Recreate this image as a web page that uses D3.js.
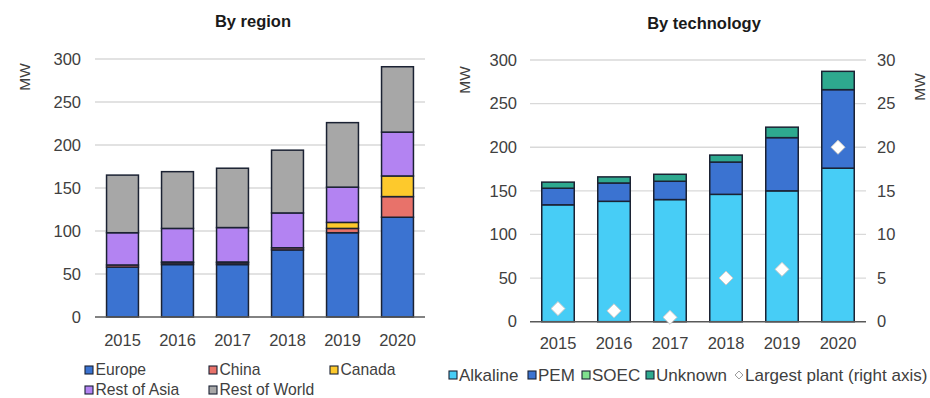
<!DOCTYPE html>
<html>
<head>
<meta charset="utf-8">
<script src="https://cdn.jsdelivr.net/npm/d3@7"></script>
<style>
  html, body { margin: 0; padding: 0; background: #fff; }
  svg { display: block; font-family: "Liberation Sans", Arial, sans-serif; }
</style>
</head>
<body>
<svg id="chart" width="930" height="398"></svg>
<script>
// Electrolyser capacity additions, MW
const years = ["2015", "2016", "2017", "2018", "2019", "2020"];

// By region
const europe      = [58, 61, 61, 78, 98, 116];
const china       = [2.5, 2, 2, 2.5, 5, 24];
const canada      = [0, 1, 1, 0, 7, 24];
const restOfAsia  = [37.5, 39, 40, 40.5, 41, 51];
const restOfWorld = [67, 66, 69, 73, 75, 76];

// By technology
const alkaline = [134, 138, 140, 146, 150, 176];
const pem      = [19, 21, 21, 37, 61, 90];
const soec     = [0, 0, 0, 0, 0, 0];
const unknown  = [7, 7, 8, 8, 12, 21];
// Largest single plant, MW (right axis)
const largestPlant = [1.5, 1.25, 0.5, 5, 6, 20];

const leftTicks  = [0, 50, 100, 150, 200, 250, 300];
const rightTicks = [0, 5, 10, 15, 20, 25, 30];

const regionSeries = [
  { name: "Europe",        values: europe,      color: "#3b73d1" },
  { name: "China",         values: china,       color: "#e8726a" },
  { name: "Canada",        values: canada,      color: "#fdc92c" },
  { name: "Rest of Asia",  values: restOfAsia,  color: "#b383f2" },
  { name: "Rest of World", values: restOfWorld, color: "#a7a7a7" }
];
const techSeries = [
  { name: "Alkaline", values: alkaline, color: "#47cdf6" },
  { name: "PEM",      values: pem,      color: "#3b73d1" },
  { name: "SOEC",     values: soec,     color: "#7fe08e" },
  { name: "Unknown",  values: unknown,  color: "#2ea98f" }
];

const FONT = '"Liberation Sans", Arial, sans-serif';
const svg = d3.select("#chart");
const textColor = "#404040";
const strokeColor = "#1b2233";

function stackedPanel(opts) {
  const g = svg.append("g");
  const x = d3.scaleBand().domain(years).range([opts.x0, opts.x1]).paddingInner(0.42).paddingOuter(0.21);
  const y = d3.scaleLinear().domain([0, 300]).range([opts.y0, opts.yTop]);

  // gridlines
  g.append("g").selectAll("line").data(leftTicks.filter(d => d > 0)).join("line")
    .attr("x1", opts.x0).attr("x2", opts.x1)
    .attr("y1", d => y(d)).attr("y2", d => y(d))
    .attr("stroke", "#d9d9d9").attr("stroke-width", 1.3);

  // left axis labels
  const yAxis = d3.axisLeft(y).tickValues(leftTicks).tickSize(0).tickPadding(0);
  const ya = g.append("g").attr("transform", `translate(${opts.labelRight},0)`).call(yAxis)
    .attr("font-family", FONT).attr("font-size", 16.5);
  ya.select(".domain").remove();
  ya.selectAll("text").attr("fill", textColor);

  g.append("text").text("MW")
    .attr("transform", `translate(${opts.mwX},${opts.mwY}) rotate(-90)`)
    .attr("text-anchor", "middle").attr("dy", "0.35em")
    .attr("font-size", 15.5).attr("fill", textColor);

  // stacked bars
  const rows = years.map((yr, i) => {
    const r = { year: yr };
    opts.series.forEach(s => { r[s.name] = s.values[i]; });
    return r;
  });
  const stacked = d3.stack().keys(opts.series.map(s => s.name))(rows);
  stacked.forEach((layer, k) => {
    g.append("g").selectAll("rect").data(layer.filter(d => d[1] - d[0] > 0)).join("rect")
      .attr("x", d => x(d.data.year))
      .attr("width", x.bandwidth())
      .attr("y", d => y(d[1]))
      .attr("height", d => y(d[0]) - y(d[1]))
      .attr("fill", opts.series[k].color)
      .attr("stroke", strokeColor).attr("stroke-width", 1.5);
  });

  // baseline
  g.append("line").attr("x1", opts.x0).attr("x2", opts.x1)
    .attr("y1", y(0)).attr("y2", y(0))
    .attr("stroke", "#595959").attr("stroke-width", 1.5);

  // x labels
  const xAxis = d3.axisBottom(x).tickSize(0).tickPadding(0);
  const xa = g.append("g").attr("transform", `translate(0,${opts.xLabelY})`).call(xAxis)
    .attr("font-family", FONT).attr("font-size", 16.5);
  xa.select(".domain").remove();
  xa.selectAll("text").attr("fill", textColor).attr("dy", "0.35em");

  g.append("text").text(opts.title)
    .attr("x", opts.titleX).attr("y", opts.titleY)
    .attr("text-anchor", "middle").attr("dy", "0.35em")
    .attr("font-size", 16.5).attr("font-weight", "bold").attr("fill", "#1a1a1a");

  return { g, x, y };
}

// ---- By region ----
const left = stackedPanel({
  x0: 95, x1: 425, y0: 317, yTop: 59,
  labelRight: 81, mwX: 25, mwY: 77,
  series: regionSeries, xLabelY: 340,
  title: "By region", titleX: 253, titleY: 21
});

const legL = svg.append("g");
const legLItems = [
  { s: regionSeries[0], x: 85, y: 370 },
  { s: regionSeries[1], x: 209, y: 370 },
  { s: regionSeries[2], x: 330, y: 370 },
  { s: regionSeries[3], x: 85, y: 390 },
  { s: regionSeries[4], x: 209, y: 390 }
];
legLItems.forEach(it => {
  legL.append("rect").attr("x", it.x).attr("y", it.y - 4).attr("width", 8).attr("height", 8)
    .attr("fill", it.s.color).attr("stroke", strokeColor).attr("stroke-width", 1.1);
  legL.append("text").text(it.s.name).attr("x", it.x + 10.5).attr("y", it.y).attr("dy", "0.35em")
    .attr("font-size", 15.7).attr("fill", textColor);
});

// ---- By technology ----
const right = stackedPanel({
  x0: 530, x1: 866, y0: 321.7, yTop: 60,
  labelRight: 517, mwX: 465, mwY: 80,
  series: techSeries, xLabelY: 343,
  title: "By technology", titleX: 704, titleY: 23
});

const yR = d3.scaleLinear().domain([0, 30]).range([321.7, 60]);
const yAxisR = d3.axisRight(yR).tickValues(rightTicks).tickSize(0).tickPadding(0);
const yar = right.g.append("g").attr("transform", "translate(877,0)").call(yAxisR)
  .attr("font-family", FONT).attr("font-size", 16.5);
yar.select(".domain").remove();
yar.selectAll("text").attr("fill", textColor);
right.g.append("text").text("MW")
  .attr("transform", "translate(920,87) rotate(-90)")
  .attr("text-anchor", "middle").attr("dy", "0.35em")
  .attr("font-size", 15.5).attr("fill", textColor);

const diamond = d3.symbol().type(d3.symbolDiamond2).size(125);
right.g.append("g").selectAll("path").data(largestPlant).join("path")
  .attr("d", diamond)
  .attr("transform", (d, i) => `translate(${right.x(years[i]) + right.x.bandwidth() / 2},${yR(d)})`)
  .attr("fill", "#ffffff").attr("stroke", "#c8c8c8").attr("stroke-width", 1);

const legR = svg.append("g");
const legRItems = [
  { s: techSeries[0], x: 449 },
  { s: techSeries[1], x: 528 },
  { s: techSeries[2], x: 582 },
  { s: techSeries[3], x: 646 }
];
legRItems.forEach(it => {
  legR.append("rect").attr("x", it.x).attr("y", 371).attr("width", 8).attr("height", 8)
    .attr("fill", it.s.color).attr("stroke", strokeColor).attr("stroke-width", 1.1);
  legR.append("text").text(it.s.name).attr("x", it.x + 10).attr("y", 375).attr("dy", "0.35em")
    .attr("font-size", 17).attr("fill", textColor);
});
legR.append("path").attr("d", d3.symbol().type(d3.symbolDiamond2).size(40))
  .attr("transform", "translate(739,375)")
  .attr("fill", "#fff").attr("stroke", "#9a9a9a").attr("stroke-width", 1);
legR.append("text").text("Largest plant (right axis)").attr("x", 745).attr("y", 375).attr("dy", "0.35em")
  .attr("font-size", 17).attr("fill", textColor);
</script>
</body>
</html>
